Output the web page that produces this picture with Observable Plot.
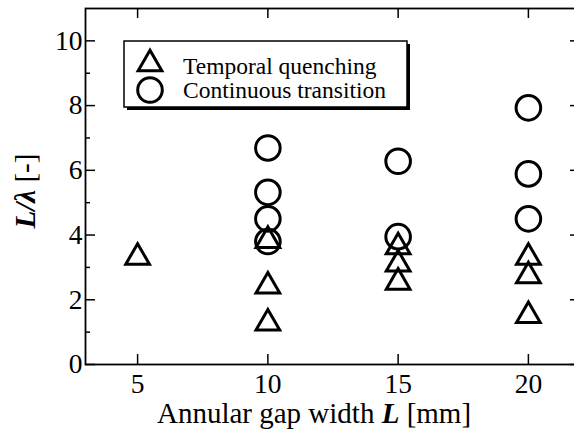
<!DOCTYPE html>
<html><head><meta charset="utf-8">
<script src="https://cdn.jsdelivr.net/npm/d3@7"></script>
<script src="https://cdn.jsdelivr.net/npm/@observablehq/plot@0.6"></script>
<style>
html,body{margin:0;padding:0;background:#fff;overflow:hidden;}
#chart{position:relative;width:574px;height:443px;overflow:hidden;}
#chart svg{max-width:none !important;width:582px;height:443px;}
#chart svg text{font-family:"Liberation Serif","Times New Roman",Times,serif;}
</style></head><body><div id="chart"></div>
<script>
const xTicks = [5, 10, 15, 20];
const yMajor = [0, 2, 4, 6, 8, 10];
const yMinor = [1, 3, 5, 7, 9];
const gapTemporal = [5, 10, 10, 10, 15, 15, 15, 20, 20, 20];
const ratioTemporal = [3.31, 3.83, 2.42, 1.28, 3.63, 3.10, 2.54, 3.31, 2.74, 1.51];
const gapContinuous = [10, 10, 10, 10, 15, 15, 20, 20, 20];
const ratioContinuous = [6.69, 5.32, 4.50, 3.80, 6.28, 3.95, 7.93, 5.89, 4.50];
const seriesNames = ["Temporal quenching", "Continuous transition"];

const W = 582, H = 443, mL = 85, mR = 2, mT = 8, mB = 79;
const pw = W - mL - mR, ph = H - mT - mB;
const FONT = "Liberation Serif, Times New Roman, Times, serif";

const temporal = gapTemporal.map((x, i) => ({x, y: ratioTemporal[i]}));
const continuous = gapContinuous.map((x, i) => ({x, y: ratioContinuous[i]}));

const plot = Plot.plot({
  width: W, height: H,
  marginLeft: mL, marginRight: mR, marginTop: mT, marginBottom: mB,
  style: {fontSize: "27.5px", background: "white", color: "black", maxWidth: "none"},
  x: {domain: [3, 22], ticks: xTicks, tickSize: 0, tickPadding: 9, tickFormat: d => String(d), label: null},
  y: {domain: [0, 11], ticks: yMajor, tickSize: 0, tickPadding: 3, tickFormat: d => String(d), label: null},
  marks: [
    Plot.tickY(yMajor, {y: d => d, insetRight: pw - 10, strokeWidth: 1.5}),
    Plot.tickY(yMinor, {y: d => d, insetRight: pw - 5, strokeWidth: 1.5}),
    Plot.tickY(yMajor, {y: d => d, insetLeft: pw - 10, strokeWidth: 1.5}),
    Plot.tickY(yMinor, {y: d => d, insetLeft: pw - 5, strokeWidth: 1.5}),
    Plot.tickX(xTicks, {x: d => d, insetTop: ph - 10, strokeWidth: 1.5}),
    Plot.tickX(xTicks, {x: d => d, insetBottom: ph - 10, strokeWidth: 1.5}),
    Plot.frame({strokeWidth: 1.8}),
    Plot.dot(continuous, {x: "x", y: "y", r: 12.3, symbol: "circle", stroke: "black", strokeWidth: 3, fill: "none"}),
    Plot.dot(temporal, {x: "x", y: "y", r: 8.8, symbol: "triangle", stroke: "black", strokeWidth: 3, fill: "none"})
  ]
});
plot.setAttribute("font-family", FONT);
document.getElementById("chart").appendChild(plot);

const svg = d3.select(plot);
// x axis label
const xl = svg.append("text").attr("x", 314).attr("y", 423)
  .attr("text-anchor", "middle").attr("font-size", 29).attr("fill", "black");
xl.append("tspan").text("Annular gap width ");
xl.append("tspan").attr("font-weight", "bold").attr("font-style", "italic").text("L");
xl.append("tspan").text(" [mm]");
// y axis label
const yl = svg.append("text").attr("transform", "translate(35,191) rotate(-90)")
  .attr("text-anchor", "middle").attr("font-size", 29).attr("fill", "black");
yl.append("tspan").attr("font-weight", "bold").attr("font-style", "italic").text("L/λ");
yl.append("tspan").text(" [-]");

// legend
const lg = svg.append("g");
lg.append("rect").attr("x", 127).attr("y", 44).attr("width", 283).attr("height", 66).attr("fill", "black");
lg.append("rect").attr("x", 124).attr("y", 41).attr("width", 283).attr("height", 66)
  .attr("fill", "white").attr("stroke", "black").attr("stroke-width", 1.5);
lg.append("path").attr("transform", "translate(150,64)")
  .attr("d", d3.symbol(d3.symbolTriangle, Math.PI * 8.8 * 8.8)())
  .attr("fill", "none").attr("stroke", "black").attr("stroke-width", 3);
lg.append("path").attr("transform", "translate(150,90)")
  .attr("d", d3.symbol(d3.symbolCircle, Math.PI * 12.3 * 12.3)())
  .attr("fill", "none").attr("stroke", "black").attr("stroke-width", 3);
seriesNames.forEach((name, i) => {
  lg.append("text").attr("x", 183).attr("y", 73.5 + i * 24).attr("text-anchor", "start")
    .attr("font-size", 23.5).attr("fill", "black").text(name);
});
</script></body></html>
